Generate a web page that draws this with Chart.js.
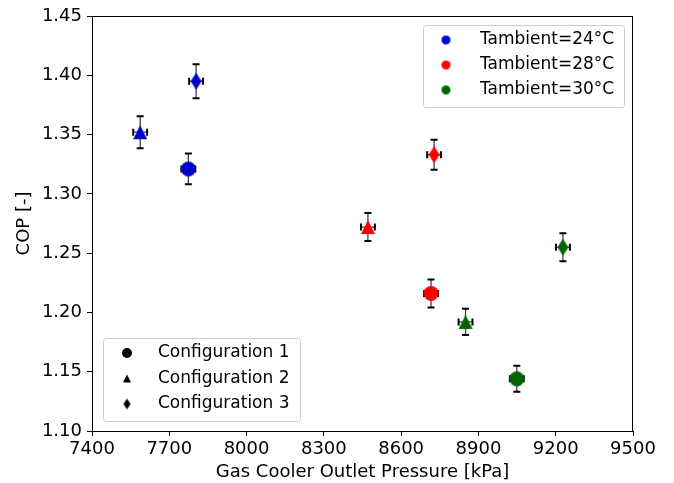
<!DOCTYPE html>
<html lang="en">
<head>
    <meta charset="UTF-8">
    <title>COP vs Gas Cooler Outlet Pressure</title>
    <style>
        body { margin: 0; background: #fff; }
        #wrap { width: 674px; height: 483px; }
    </style>
    <script src="https://cdn.jsdelivr.net/npm/chart.js"></script>
</head>
<body>
    <div id="wrap"><canvas id="chart" width="674" height="483"></canvas></div>

    <script>
        // values
        const configLabels = ["Configuration 1", "Configuration 2", "Configuration 3"];
        const tempLabels = ["Tambient=24°C", "Tambient=28°C", "Tambient=30°C"];
        const tempColors = ["#0000cd", "#ff0000", "#006400"];

        const pressure24 = [7774, 7587, 7804];
        const cop24 = [1.321, 1.352, 1.395];
        const pressure28 = [8716, 8471, 8728];
        const cop28 = [1.216, 1.272, 1.333];
        const pressure30 = [9049, 8850, 9228];
        const cop30 = [1.144, 1.192, 1.255];

        const pressureErr24 = [27, 27, 27];
        const pressureErr28 = [27, 27, 27];
        const pressureErr30 = [27, 27, 27];
        const copErr24 = [0.013, 0.0135, 0.0143];
        const copErr28 = [0.0118, 0.0118, 0.0127];
        const copErr30 = [0.011, 0.011, 0.0118];

        const xTicks = [7400, 7700, 8000, 8300, 8600, 8900, 9200, 9500];
        const yTicks = [1.10, 1.15, 1.20, 1.25, 1.30, 1.35, 1.40, 1.45];

        const FONT = '"DejaVu Sans", sans-serif';

        function markerCanvas(shape, color, w, h) {
            const c = document.createElement("canvas");
            c.width = w + 2;
            c.height = h + 2;
            const g = c.getContext("2d");
            const cx = c.width / 2, cy = c.height / 2;
            g.fillStyle = color;
            g.beginPath();
            if (shape === "circle") {
                g.arc(cx, cy, w / 2, 0, Math.PI * 2);
            } else if (shape === "triangle") {
                g.moveTo(cx, cy - h / 2);
                g.lineTo(cx + w / 2, cy + h / 2);
                g.lineTo(cx - w / 2, cy + h / 2);
                g.closePath();
            } else {
                g.moveTo(cx, cy - h / 2);
                g.lineTo(cx + w / 2, cy);
                g.lineTo(cx, cy + h / 2);
                g.lineTo(cx - w / 2, cy);
                g.closePath();
            }
            g.fill();
            return c;
        }

        function plotMarkers(color) {
            return [
                markerCanvas("circle", color, 15, 15),
                markerCanvas("triangle", color, 14, 14),
                markerCanvas("diamond", color, 11, 17)
            ];
        }

        function points(xs, ys) {
            return xs.map((x, i) => ({ x: x, y: ys[i] }));
        }

        const xErrs = [pressureErr24, pressureErr28, pressureErr30];
        const yErrs = [copErr24, copErr28, copErr30];

        // error bars, drawn under the markers
        const errorBars = {
            id: "errorBars",
            beforeDatasetsDraw(chart) {
                const ctx = chart.ctx;
                const xs = chart.scales.x, ys = chart.scales.y;
                ctx.save();
                chart.data.datasets.forEach((ds, d) => {
                    ds.data.forEach((pt, i) => {
                        const px = xs.getPixelForValue(pt.x);
                        const py = ys.getPixelForValue(pt.y);
                        const x1 = xs.getPixelForValue(pt.x - xErrs[d][i]);
                        const x2 = xs.getPixelForValue(pt.x + xErrs[d][i]);
                        const y1 = ys.getPixelForValue(pt.y + yErrs[d][i]);
                        const y2 = ys.getPixelForValue(pt.y - yErrs[d][i]);
                        ctx.strokeStyle = "rgba(0,0,0,0.75)";
                        ctx.lineWidth = 1.3;
                        ctx.beginPath();
                        ctx.moveTo(px, y1); ctx.lineTo(px, y2);
                        ctx.moveTo(x1, py); ctx.lineTo(x2, py);
                        ctx.stroke();
                        ctx.strokeStyle = "#000";
                        ctx.lineWidth = 2;
                        ctx.beginPath();
                        ctx.moveTo(px - 3.5, y1); ctx.lineTo(px + 3.5, y1);
                        ctx.moveTo(px - 3.5, y2); ctx.lineTo(px + 3.5, y2);
                        ctx.moveTo(x1, py - 3.5); ctx.lineTo(x1, py + 3.5);
                        ctx.moveTo(x2, py - 3.5); ctx.lineTo(x2, py + 3.5);
                        ctx.stroke();
                    });
                });
                ctx.restore();
            }
        };

        function legendBox(ctx, x, y, w, h, rows, markerX, textX) {
            ctx.save();
            ctx.beginPath();
            ctx.roundRect(x + 0.5, y + 0.5, w, h, 3);
            ctx.fillStyle = "rgba(255,255,255,0.8)";
            ctx.fill();
            ctx.strokeStyle = "#cccccc";
            ctx.lineWidth = 1;
            ctx.stroke();
            ctx.font = "17px " + FONT;
            ctx.fillStyle = "#000";
            ctx.textBaseline = "middle";
            ctx.textAlign = "left";
            rows.forEach(r => {
                ctx.drawImage(r.marker, markerX - r.marker.width / 2, r.y - r.marker.height / 2);
                ctx.fillText(r.text, textX, r.y);
            });
            ctx.restore();
        }

        const frameAndLegends = {
            id: "frameAndLegends",
            afterDraw(chart) {
                const ctx = chart.ctx;
                const a = chart.chartArea;
                ctx.save();
                ctx.strokeStyle = "#000";
                ctx.lineWidth = 1;
                ctx.strokeRect(Math.round(a.left) + 0.5, Math.round(a.top) + 0.5,
                    Math.round(a.right - a.left) - 1, Math.round(a.bottom - a.top));
                ctx.restore();

                legendBox(ctx, 423, 25, 201, 82, tempLabels.map((t, i) => ({
                    text: t, y: 40 + i * 25, marker: markerCanvas("circle", tempColors[i], 9, 9)
                })), 446, 480);

                const cfgMarkers = [
                    markerCanvas("circle", "#000", 10, 10),
                    markerCanvas("triangle", "#000", 8, 8),
                    markerCanvas("diamond", "#000", 7, 11)
                ];
                legendBox(ctx, 103, 338, 197, 83, configLabels.map((t, i) => ({
                    text: t, y: 353 + i * 25.5, marker: cfgMarkers[i]
                })), 127, 158);
            }
        };

        new Chart(document.getElementById("chart"), {
            type: "scatter",
            data: {
                datasets: [
                    { label: tempLabels[0], data: points(pressure24, cop24), pointStyle: plotMarkers(tempColors[0]) },
                    { label: tempLabels[1], data: points(pressure28, cop28), pointStyle: plotMarkers(tempColors[1]) },
                    { label: tempLabels[2], data: points(pressure30, cop30), pointStyle: plotMarkers(tempColors[2]) }
                ]
            },
            options: {
                responsive: false,
                animation: false,
                events: [],
                layout: { padding: { top: 16, right: 41, left: 0, bottom: 0 } },
                plugins: { legend: { display: false }, tooltip: { enabled: false } },
                scales: {
                    x: {
                        type: "linear",
                        min: xTicks[0],
                        max: xTicks[xTicks.length - 1],
                        afterBuildTicks: s => { s.ticks = xTicks.map(v => ({ value: v })); },
                        afterFit: s => { s.height = 52; },
                        border: { display: false },
                        grid: { drawOnChartArea: false, drawTicks: true, tickLength: 5, color: "#000" },
                        ticks: {
                            color: "#000", font: { family: FONT, size: 18 }, padding: 3, maxRotation: 0,
                            callback: v => String(v)
                        },
                        title: {
                            display: true, text: "Gas Cooler Outlet Pressure [kPa]", color: "#000",
                            font: { family: FONT, size: 18 }, padding: { top: 0, bottom: 0 }
                        }
                    },
                    y: {
                        type: "linear",
                        min: yTicks[0],
                        max: yTicks[yTicks.length - 1],
                        afterBuildTicks: s => { s.ticks = yTicks.map(v => ({ value: v })); },
                        afterFit: s => { s.width = 92; },
                        border: { display: false },
                        grid: { drawOnChartArea: false, drawTicks: true, tickLength: 5, color: "#000" },
                        ticks: {
                            color: "#000", font: { family: FONT, size: 18 }, padding: 5,
                            callback: v => v.toFixed(2)
                        },
                        title: {
                            display: true, text: "COP [-]", color: "#000",
                            font: { family: FONT, size: 18 }, padding: { top: 14, bottom: 0 }
                        }
                    }
                }
            },
            plugins: [errorBars, frameAndLegends]
        });
    </script>
</body>
</html>
